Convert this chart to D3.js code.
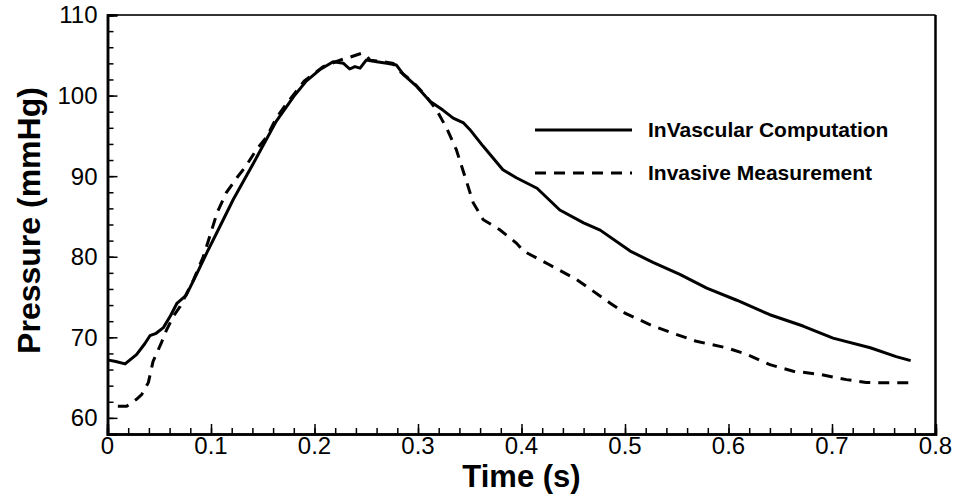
<html>
<head>
  <meta charset="utf-8">
  <script src="https://d3js.org/d3.v7.min.js"></script>
  <style>
    body { margin: 0; background: white; }
    text { font-family: "Liberation Sans", Arial, Helvetica, sans-serif; }
  </style>
  <script>
    // InVascular computation (solid)
    var compTime = [0, 0.008, 0.017, 0.028, 0.036, 0.041, 0.047, 0.054, 0.061, 0.067, 0.076, 0.086,
      0.096, 0.108, 0.1215, 0.141, 0.163, 0.18, 0.192, 0.205, 0.218, 0.228, 0.234, 0.239, 0.244,
      0.25, 0.26, 0.27, 0.279, 0.286, 0.299, 0.3115, 0.324, 0.334, 0.344, 0.35, 0.363, 0.382,
      0.395, 0.415, 0.437, 0.46, 0.476, 0.505, 0.527, 0.553, 0.579, 0.608, 0.64, 0.672, 0.701,
      0.737, 0.762, 0.776];
    var compPressure = [67.2, 67.0, 66.7, 67.85, 69.2, 70.2, 70.5, 71.2, 72.7, 74.2, 75.2, 77.8,
      80.5, 83.6, 87.1, 91.6, 96.8, 99.9, 101.8, 103.2, 104.2, 104.0, 103.3, 103.6, 103.4,
      104.4, 104.2, 104.0, 103.8, 102.6, 101.1, 99.3, 98.2, 97.2, 96.6, 95.8, 93.7, 90.8,
      89.8, 88.5, 85.8, 84.2, 83.3, 80.7, 79.3, 77.8, 76.1, 74.6, 72.8, 71.4, 69.9,
      68.7, 67.6, 67.1];

    // invasive measurement (dashed)
    var measTime = [0.01, 0.0185, 0.028, 0.033, 0.0395, 0.044, 0.052, 0.057, 0.0636, 0.07, 0.083,
      0.0925, 0.097, 0.106, 0.115, 0.125, 0.134, 0.144, 0.154, 0.163, 0.173, 0.19, 0.2085, 0.2246,
      0.234, 0.2455, 0.25, 0.2536, 0.266, 0.276, 0.2825, 0.295, 0.308, 0.318, 0.3277, 0.337,
      0.347, 0.3533, 0.363, 0.379, 0.395, 0.402, 0.427, 0.453, 0.485, 0.5, 0.527, 0.5465, 0.569,
      0.598, 0.6175, 0.64, 0.6625, 0.688, 0.714, 0.733, 0.755, 0.777];
    var measPressure = [61.45, 61.45, 62.3, 62.9, 64.4, 67.0, 69.3, 70.9, 72.6, 73.8, 77.1,
      80.0, 81.8, 85.5, 88.0, 89.8, 91.3, 93.3, 94.9, 97.2, 99.0, 101.8, 103.6, 104.4,
      104.75, 105.25, 105.0, 104.4, 104.2, 104.0, 103.0, 101.7, 99.9, 98.2, 95.95, 93.3,
      89.3, 86.7, 84.6, 83.35, 81.7, 80.7, 79.0, 77.2, 74.3, 73.0, 71.4, 70.5, 69.5,
      68.7, 67.9, 66.6, 65.8, 65.4, 64.75, 64.4, 64.35, 64.35];

    var xTicks = [0, 0.1, 0.2, 0.3, 0.4, 0.5, 0.6, 0.7, 0.8];
    var yTicks = [60, 70, 80, 90, 100, 110];
    var seriesNames = ["InVascular Computation", "Invasive Measurement"];

    function makeChart() {
      var svg = d3.select("#chart");
      var x = d3.scaleLinear().domain([0, 0.8]).range([107.5, 935.5]);
      var y = d3.scaleLinear().domain([58, 110]).range([434, 15]);

      // frame: top and right are plain lines
      svg.append("line").attr("x1", x(0)).attr("x2", x(0.8)).attr("y1", y(110)).attr("y2", y(110))
          .attr("stroke", "#333").attr("stroke-width", 2);
      svg.append("line").attr("x1", x(0.8)).attr("x2", x(0.8)).attr("y1", y(110)).attr("y2", y(58))
          .attr("stroke", "black").attr("stroke-width", 2.5);

      // bottom axis, ticks point inward
      var xMinor = d3.range(0, 41).map(i => i * 0.02);
      var gx = svg.append("g").attr("transform", "translate(0," + y(58) + ")");
      gx.call(d3.axisTop(x).tickValues(xMinor).tickSize(6).tickFormat(""));
      gx.append("g").call(d3.axisTop(x).tickValues(xTicks).tickSize(10).tickFormat(""));
      gx.selectAll(".tick line").attr("stroke", "black").attr("stroke-width", 1.5);
      gx.selectAll(".domain").attr("stroke", "black").attr("stroke-width", 2.5);
      gx.selectAll(".xlab").data(xTicks).enter().append("text")
          .attr("x", d => x(d)).attr("y", 20)
          .attr("text-anchor", "middle").attr("font-size", 24).attr("fill", "black")
          .text(d => d3.format("")(d));

      // left axis
      var yMinor = d3.range(58, 111, 2);
      var gy = svg.append("g").attr("transform", "translate(" + x(0) + ",0)");
      gy.call(d3.axisRight(y).tickValues(yMinor).tickSize(6).tickFormat(""));
      gy.append("g").call(d3.axisRight(y).tickValues(yTicks).tickSize(10).tickFormat(""));
      gy.selectAll(".tick line").attr("stroke", "black").attr("stroke-width", 1.5);
      gy.selectAll(".domain").attr("stroke", "black").attr("stroke-width", 2.5);
      gy.selectAll(".ylab").data(yTicks).enter().append("text")
          .attr("x", -10).attr("y", d => y(d)).attr("dy", "0.35em")
          .attr("text-anchor", "end").attr("font-size", 24).attr("fill", "black")
          .text(d => d);

      // axis titles
      svg.append("text").attr("x", (x(0) + x(0.8)) / 2).attr("y", 487)
          .attr("text-anchor", "middle").attr("font-size", 31).attr("font-weight", "bold")
          .text("Time (s)");
      svg.append("text").attr("transform", "translate(40," + (y(84) - 4) + ") rotate(-90)")
          .attr("text-anchor", "middle").attr("font-size", 32).attr("font-weight", "bold")
          .text("Pressure (mmHg)");

      var line = d3.line().x(d => x(d[0])).y(d => y(d[1]));
      var comp = d3.zip(compTime, compPressure);
      var meas = d3.zip(measTime, measPressure);

      svg.append("path").datum(meas).attr("d", line).attr("fill", "none")
          .attr("stroke", "black").attr("stroke-width", 3).attr("stroke-dasharray", "11,8");
      svg.append("path").datum(comp).attr("d", line).attr("fill", "none")
          .attr("stroke", "black").attr("stroke-width", 3).attr("stroke-linejoin", "round");

      // legend
      var lg = svg.append("g");
      var rows = lg.selectAll("g").data(seriesNames).enter().append("g")
          .attr("transform", (d, i) => "translate(535," + (130 + i * 43) + ")");
      rows.append("line").attr("x1", 0).attr("x2", 97).attr("y1", 0).attr("y2", 0)
          .attr("stroke", "black").attr("stroke-width", 3)
          .attr("stroke-dasharray", (d, i) => i == 1 ? "11,8" : null);
      rows.append("text").attr("x", 113).attr("dy", "0.35em")
          .attr("font-size", 21).attr("font-weight", "bold").text(d => d);
    }
  </script>
</head>

<body onload="makeChart()">
  <svg id="chart" width="958" height="494"></svg>
</body>
</html>
